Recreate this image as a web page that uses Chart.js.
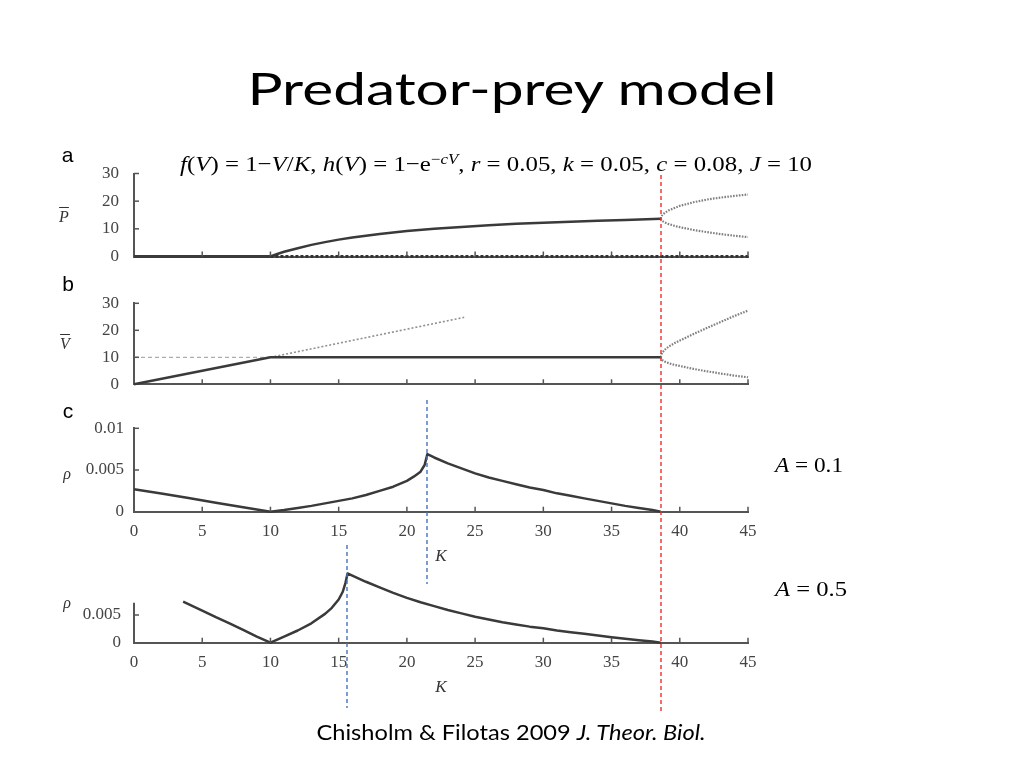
<!DOCTYPE html>
<html><head><meta charset="utf-8">
<script src="https://cdn.jsdelivr.net/npm/chart.js@4.4.1/dist/chart.umd.min.js"></script>
<style>
html,body{margin:0;padding:0;background:#fff;}
#stage{position:relative;width:1024px;height:768px;overflow:hidden;background:#fff;}
canvas{position:absolute;left:0;top:0;}
.t{position:absolute;white-space:nowrap;line-height:1;transform:translate(-50%,-50%);color:#000;}
.serif{font-family:"Liberation Serif","DejaVu Serif",serif;}
.sans{font-family:"Liberation Sans",Arial,sans-serif;}
.lato{font-family:Lato,"Open Sans",sans-serif;}
sup{font-size:0.68em;vertical-align:0.5em;line-height:0;}
.ol{text-decoration:overline;}
</style></head><body>
<div id="stage">
<canvas id="cA" width="1024" height="768"></canvas>
<canvas id="cB" width="1024" height="768"></canvas>
<canvas id="cC" width="1024" height="768"></canvas>
<canvas id="cD" width="1024" height="768"></canvas>

<div class="t lato" id="title" style="left:512px;top:88px;font-size:45px;">Predator-prey model</div>
<div class="t serif" id="formula" style="left:496px;top:164px;font-size:22px;"><i>f</i>(<i>V</i>) = 1−<i>V</i>/<i>K</i>, <i>h</i>(<i>V</i>) = 1−e<sup>−<i>cV</i></sup>, <i>r</i> = 0.05, <i>k</i> = 0.05, <i>c</i> = 0.08, <i>J</i> = 10</div>
<div class="t sans" style="left:67.5px;top:154px;font-size:21px;">a</div>
<div class="t sans" style="left:68px;top:283px;font-size:21px;">b</div>
<div class="t sans" style="left:68px;top:410px;font-size:21px;">c</div>
<div class="t serif" style="left:64px;top:216.6px;font-size:16px;color:#333;"><i class="ol">P</i></div>
<div class="t serif" style="left:65px;top:344px;font-size:16px;color:#333;"><i class="ol">V</i></div>
<div class="t serif" style="left:67px;top:474px;font-size:16px;color:#333;"><i>ρ</i></div>
<div class="t serif" style="left:67px;top:603px;font-size:16px;color:#333;"><i>ρ</i></div>
<div class="t serif" id="a1" style="left:809px;top:465px;font-size:21px;"><i>A</i> = 0.1</div>
<div class="t serif" id="a5" style="left:811px;top:589px;font-size:21px;"><i>A</i> = 0.5</div>
<div class="t lato" id="cite" style="left:511.4px;top:732.2px;font-size:22px;">Chisholm &amp; Filotas 2009 <i>J. Theor. Biol.</i></div>
</div>
<script>
// ---------- data ----------
const xTicks = [0, 5, 10, 15, 20, 25, 30, 35, 40, 45];
const xTickLabels = ['0', '5', '10', '15', '20', '25', '30', '35', '40', '45'];
const aYTicks = [0, 10, 20, 30];
const aYTickLabels = ['0', '10', '20', '30'];
const bYTicks = [0, 10, 20, 30];
const bYTickLabels = ['0', '10', '20', '30'];
const cYTicks = [0, 0.005, 0.01];
const cYTickLabels = ['0', '0.005', '0.01'];
const dYTicks = [0, 0.005];
const dYTickLabels = ['0', '0.005'];

// panel a: predator equilibrium
const aZeroStableK = [0, 10];
const aZeroStableP = [0, 0];
const aZeroUnstableK = [10, 45];
const aZeroUnstableP = [0, 0];
const aEqK = [10, 10.5, 11, 12, 13, 14, 15, 16, 17, 18, 20, 22, 24, 26, 28, 30, 32, 34, 36, 38.6];
const aEqP = [0, 0.9, 1.7, 3.0, 4.2, 5.2, 6.1, 6.9, 7.5, 8.1, 9.2, 10.0, 10.7, 11.3, 11.8, 12.2, 12.6, 12.9, 13.2, 13.6];
const branchK = [38.6, 38.7, 38.9, 39.2, 39.6, 40, 41, 42, 43, 44, 45];
const aUpperP = [13.6, 14.8, 15.8, 16.7, 17.5, 18.3, 19.6, 20.6, 21.3, 21.9, 22.4];
const aLowerP = [13.6, 12.9, 12.3, 11.7, 11.1, 10.6, 9.6, 8.8, 8.1, 7.5, 7.0];

// panel b: prey equilibrium
const bEqK = [0, 10, 38.6];
const bEqV = [0, 10, 10];
const bJK = [0, 10];
const bJV = [10, 10];
const bPreyOnlyK = [10, 24.2];
const bPreyOnlyV = [10, 24.8];
const bUpperV = [10, 11.6, 12.8, 14.0, 15.2, 16.2, 18.6, 20.9, 23.1, 25.3, 27.3];
const bLowerV = [10, 9.0, 8.4, 7.8, 7.2, 6.8, 5.7, 4.8, 4.0, 3.2, 2.6];

// panel c: rho, A = 0.1
const cK = [0, 2, 4, 6, 8, 10, 11, 12, 13, 14, 15, 16, 17, 18, 19, 20, 20.5, 21, 21.3, 21.5, 22, 23, 24, 25, 26, 27, 28, 29, 30, 31, 32, 33, 34, 35, 36, 37, 38, 38.6];
const cRho = [0.0027, 0.00218, 0.00163, 0.00108, 0.00054, 0, 0.0002, 0.00045, 0.0007, 0.001, 0.0013, 0.0016, 0.002, 0.0025, 0.003, 0.0037, 0.0042, 0.0048, 0.0056, 0.0069, 0.0065, 0.0058, 0.0052, 0.0046, 0.0041, 0.0037, 0.0033, 0.0029, 0.0026, 0.0022, 0.0019, 0.0016, 0.0013, 0.0010, 0.0007, 0.00045, 0.0002, 0];

// panel d: rho, A = 0.5
const dK = [3.6, 5, 6, 7, 8, 9, 10, 11, 12, 13, 14, 14.5, 15, 15.3, 15.5, 15.65, 16, 17, 18, 19, 20, 21, 22, 23, 24, 25, 26, 27, 28, 29, 30, 31, 32, 33, 34, 35, 36, 37, 38, 38.6];
const dRho = [0.0074, 0.0058, 0.0046, 0.0035, 0.0023, 0.0011, 0, 0.0011, 0.0022, 0.0035, 0.0052, 0.0063, 0.0078, 0.0092, 0.0108, 0.0125, 0.0121, 0.0110, 0.0100, 0.0090, 0.0081, 0.0073, 0.0066, 0.0059, 0.0053, 0.0047, 0.0042, 0.0037, 0.0033, 0.0029, 0.0026, 0.0022, 0.0019, 0.0016, 0.0013, 0.0010, 0.0007, 0.00045, 0.0002, 0];
const dYAxisTop = 0.0072;

// marker K values
const hopfK = 38.6;
const peakKc = 21.5;
const peakKd = 15.6;

// ---------- helpers ----------
const pts = (xs, ys) => xs.map((x, i) => ({x: x, y: ys[i]}));
const AREA_LEFT = 134, AREA_RIGHT = 748, Y_AXIS_W = 100, X_AXIS_H = 60;
const tickFont = {family: 'Liberation Serif', size: 17};
const MAIN = '#3a3a3a', AXIS = '#555', DOT = '#808080';

const solid = (data, w) => ({data, borderColor: MAIN, borderWidth: w || 2.5, clip: false, pointRadius: 0, fill: false});
const dotted = (data) => ({data, borderColor: DOT, borderWidth: 2.2, borderDash: [1.6, 1.3], clip: false, pointRadius: 0, fill: false});

const innerTicks = {
  id: 'innerTicks',
  afterDatasetsDraw(chart) {
    const {x, y} = chart.scales; const ctx = chart.ctx;
    ctx.save(); ctx.strokeStyle = AXIS; ctx.lineWidth = 1.5;
    x.ticks.forEach(t => { if (t.value === 0) return; const px = x.getPixelForValue(t.value);
      ctx.beginPath(); ctx.moveTo(px, y.bottom); ctx.lineTo(px, y.bottom - 5); ctx.stroke(); });
    y.ticks.forEach(t => { if (t.value === 0) return; const py = y.getPixelForValue(t.value);
      ctx.beginPath(); ctx.moveTo(x.left, py); ctx.lineTo(x.left + 5, py); ctx.stroke(); });
    ctx.restore();
  }
};
const partialY = {
  id: 'partialY',
  beforeDatasetsDraw(chart) {
    const {x, y} = chart.scales; const ctx = chart.ctx;
    ctx.save(); ctx.strokeStyle = AXIS; ctx.lineWidth = 2;
    ctx.beginPath(); ctx.moveTo(x.left, y.getPixelForValue(0) + 1); ctx.lineTo(x.left, y.getPixelForValue(dYAxisTop)); ctx.stroke();
    ctx.restore();
  }
};
const guides = {
  id: 'guides',
  afterDraw(chart) {
    const x = chart.scales.x; const ctx = chart.ctx;
    const list = [
      {k: hopfK, y0: 175, y1: 712, c: '#f0302a'},
      {k: peakKc, y0: 400, y1: 584, c: '#4472c4'},
      {k: peakKd, y0: 545, y1: 708, c: '#4472c4'}
    ];
    ctx.save(); ctx.lineWidth = 1.4; ctx.setLineDash([4, 3]);
    list.forEach(g => { const px = Math.round(x.getPixelForValue(g.k));
      ctx.strokeStyle = g.c; ctx.beginPath(); ctx.moveTo(px, g.y0); ctx.lineTo(px, g.y1); ctx.stroke(); });
    ctx.restore();
  }
};

function makePanel(id, p) {
  return new Chart(document.getElementById(id), {
    type: 'line',
    data: {datasets: p.datasets},
    options: {
      responsive: false, animation: false, devicePixelRatio: 1,
      events: [],
      layout: {padding: {left: AREA_LEFT - Y_AXIS_W, right: 1024 - AREA_RIGHT, top: p.top, bottom: 768 - p.bottom - X_AXIS_H}},
      plugins: {legend: {display: false}, tooltip: {enabled: false}},
      elements: {point: {radius: 0}, line: {tension: 0, borderJoinStyle: 'round'}},
      scales: {
        x: {
          type: 'linear', min: 0, max: 45,
          afterBuildTicks: s => { s.ticks = xTicks.map(v => ({value: v})); },
          grid: {display: false, drawTicks: false},
          border: {display: true, color: AXIS, width: 2},
          ticks: {display: p.xLabels, autoSkip: false, maxRotation: 0, padding: 10, font: tickFont, color: '#444',
                  callback: (v, i) => xTickLabels[i]},
          title: {display: p.xLabels, text: 'K', font: {family: 'Liberation Serif', size: 17, style: 'italic'}, color: '#333', padding: {top: 0, bottom: 5}},
          afterFit: s => { s.height = X_AXIS_H; }
        },
        y: {
          type: 'linear', min: p.yMin, max: p.yMax,
          afterBuildTicks: s => { s.ticks = p.yTicks.map(v => ({value: v})); },
          grid: {display: false, drawTicks: false},
          border: {display: p.yBorder !== false, color: AXIS, width: 2},
          ticks: {padding: p.yPad, font: tickFont, color: '#444', callback: (v, i) => p.yTickLabels[i]},
          afterFit: s => { s.width = Y_AXIS_W; }
        }
      }
    },
    plugins: [innerTicks].concat(p.extra || [])
  });
}

makePanel('cA', {
  top: 173.5, bottom: 256.5, yMin: 0, yMax: 30, yTicks: aYTicks, yTickLabels: aYTickLabels, yPad: 15, xLabels: false,
  datasets: [
    solid(pts(aZeroStableK, aZeroStableP), 3),
    Object.assign(solid(pts(aZeroUnstableK, aZeroUnstableP), 3), {borderDash: [3, 2], borderColor: '#333'}),
    solid(pts(aEqK, aEqP)),
    dotted(pts(branchK, aUpperP)),
    dotted(pts(branchK, aLowerP))
  ]
});
makePanel('cB', {
  top: 303.3, bottom: 384.3, yMin: 0, yMax: 30, yTicks: bYTicks, yTickLabels: bYTickLabels, yPad: 15, xLabels: false,
  datasets: [
    solid(pts(bEqK, bEqV)),
    {data: pts(bJK, bJV), borderColor: '#999', borderWidth: 1, borderDash: [4, 3], clip: false, pointRadius: 0},
    {data: pts(bPreyOnlyK, bPreyOnlyV), borderColor: '#909090', borderWidth: 1.6, borderDash: [2, 2], clip: false, pointRadius: 0},
    dotted(pts(branchK, bUpperV)),
    dotted(pts(branchK, bLowerV))
  ]
});
makePanel('cC', {
  top: 428.3, bottom: 511.7, yMin: 0, yMax: 0.01, yTicks: cYTicks, yTickLabels: cYTickLabels, yPad: 10, xLabels: true,
  datasets: [solid(pts(cK, cRho))]
});
makePanel('cD', {
  top: 570.7, bottom: 642.7, yMin: 0, yMax: 0.013, yTicks: dYTicks, yTickLabels: dYTickLabels, yPad: 13, xLabels: true, yBorder: false,
  datasets: [solid(pts(dK, dRho))],
  extra: [partialY, guides]
});

// ---------- text fitting ----------
function fitX(id, w) {
  const el = document.getElementById(id);
  el.style.transform = 'translate(-50%,-50%)';
  const r = el.getBoundingClientRect();
  const s = w / r.width;
  el.style.transform = 'translate(-50%,-50%) scaleX(' + s.toFixed(4) + ')';
}
function fitAll() {
  fitX('title', 529);
  fitX('formula', 632);
  fitX('cite', 389);
  fitX('a1', 68);
  fitX('a5', 72);
}
fitAll();
if (document.fonts && document.fonts.ready) document.fonts.ready.then(fitAll);
</script>
</body></html>
